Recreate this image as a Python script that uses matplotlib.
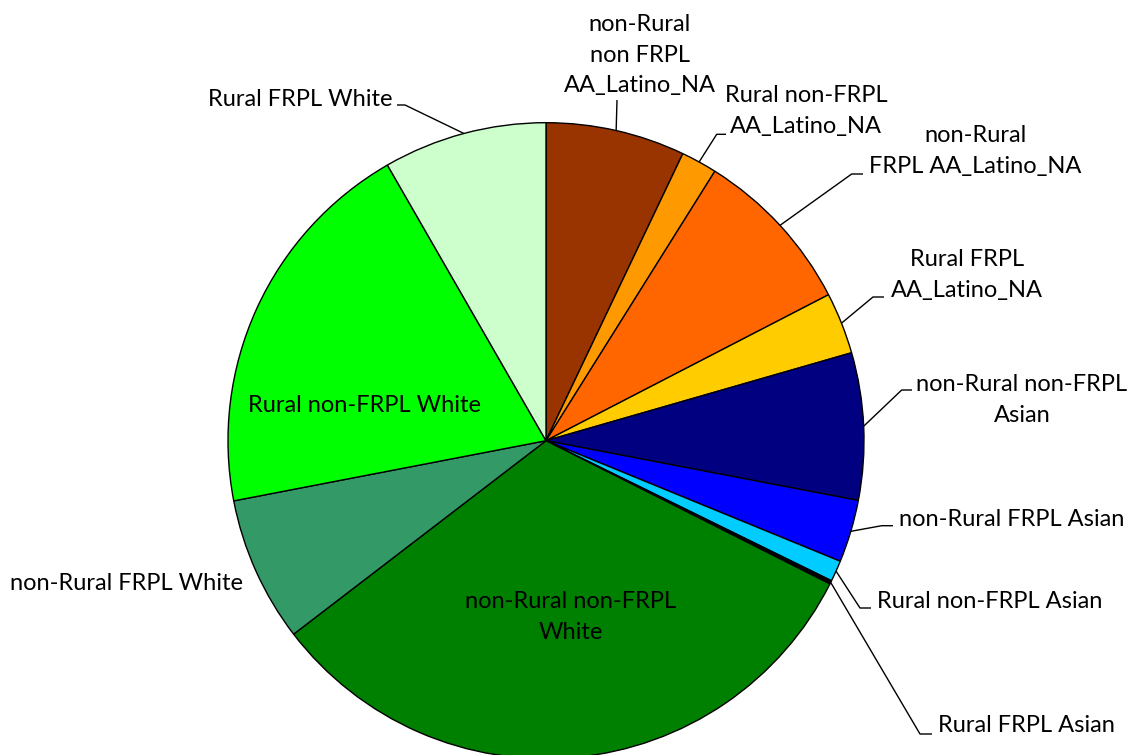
import numpy as np
import matplotlib.pyplot as plt

plt.rcParams['font.family'] = ['Lato', 'DejaVu Sans']

groups = [
    "non-Rural\nnon FRPL\nAA_Latino_NA",
    "Rural non-FRPL\nAA_Latino_NA",
    "non-Rural\nFRPL AA_Latino_NA",
    "Rural FRPL\nAA_Latino_NA",
    "non-Rural non-FRPL\nAsian",
    "non-Rural FRPL Asian",
    "Rural non-FRPL Asian",
    "Rural FRPL Asian",
    "non-Rural non-FRPL\nWhite",
    "non-Rural FRPL White",
    "Rural non-FRPL White",
    "Rural FRPL White",
]
shares = [7.08, 1.83, 8.50, 3.13, 7.47, 3.18, 1.07, 0.18, 32.15, 7.38, 19.72, 8.31]
colors = ["#993300", "#FF9900", "#FF6600", "#FFCC00", "#000080", "#0000FF",
          "#00CCFF", "#000000", "#008000", "#339966", "#00FF00", "#CCFFCC"]

W, H = 1135, 755

def px(x, y):
    # pixel position (origin top-left) -> data coords (origin bottom-left)
    return x, H - y

# label placement: text centre, then leader elbow points (label side last)
label_pos = [
    ((640, 55), [(617, 100)]),
    ((806, 111), [(716.7, 134.3), (726, 134.3)]),
    ((975, 151), [(851.7, 174), (863, 174)]),
    ((967, 275), [(873, 297), (884, 297)]),
    ((1022, 400), [(901.7, 390), (912, 390)]),
    ((1012, 520), [(881.7, 525.7), (893, 525.7)]),
    ((990, 601), [(860, 608), (871, 608)]),
    ((1026, 725), [(920, 734), (932, 734)]),
    ((571, 617), None),
    ((126, 584), None),
    ((365, 406), None),
    ((300, 100), [(405, 105), (397, 105)]),
]

fig = plt.figure(figsize=(W / 100, H / 100), dpi=100)
ax = fig.add_axes([0, 0, 1, 1])

cx, cy = px(546, 440.7)
r = 318
wedges, _ = ax.pie(shares, colors=colors, startangle=90, counterclock=False,
                   center=(cx, cy), radius=r,
                   wedgeprops=dict(edgecolor="black", linewidth=1.0))

for w, text, (pos, leader) in zip(wedges, groups, label_pos):
    tx, ty = px(*pos)
    ax.text(tx, ty, text, ha="center", va="center", fontsize=17,
            linespacing=1.55, color="black")
    if leader:
        mid = np.deg2rad((w.theta1 + w.theta2) / 2)
        xs = [cx + r * np.cos(mid)] + [px(*p)[0] for p in leader]
        ys = [cy + r * np.sin(mid)] + [px(*p)[1] for p in leader]
        ax.plot(xs, ys, color="black", linewidth=1.0, solid_capstyle="butt")

ax.set_xlim(0, W)
ax.set_ylim(0, H)
ax.set_aspect("equal")
ax.axis("off")

fig.savefig("out.png", dpi=100)
